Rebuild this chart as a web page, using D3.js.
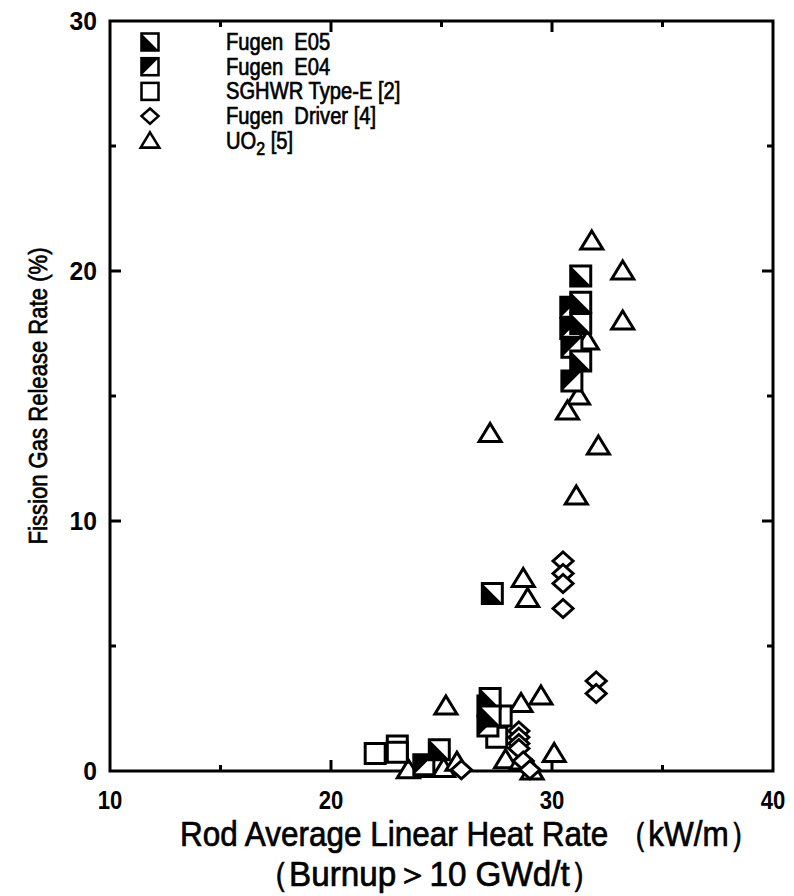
<!DOCTYPE html>
<html>
<head>
<meta charset="utf-8">
<script src="https://cdn.jsdelivr.net/npm/d3@7"></script>
<style>
  body { margin: 0; background: #fff; }
  text { font-family: "Liberation Sans", Arial, sans-serif; fill: #000; white-space: pre; }
  .heavy { stroke: #000; stroke-width: 0.7px; }
</style>
</head>
<body>
<div id="chart"></div>
<script>
'use strict'
// data: [heat rate kW/m, FGR %]
let fugenE05 = [[31.3, 19.8], [31.3, 18.75], [31.3, 17.9], [31.3, 16.4], [27.3, 7.1],
  [27.2, 2.9], [27.2, 2.2], [24.9, 0.85]]
let fugenE04 = [[30.85, 18.55], [30.85, 17.7], [30.9, 16.95], [30.9, 15.6],
  [27.1, 2.6], [27.1, 1.8], [24.2, 0.25]]
let sghwr = [[22.0, 0.7], [23.0, 1.0], [23.0, 0.75], [27.5, 1.35], [27.7, 2.2]]
let driver = [[30.5, 8.4], [30.5, 7.9], [30.5, 7.5], [30.5, 6.5], [32.0, 3.6], [32.0, 3.1],
  [28.5, 1.6], [28.5, 1.35], [28.5, 1.1], [28.5, 0.9], [28.7, 0.4], [29.0, 0.05], [25.9, 0.05]]
let uo2 = [[31.8, 21.2], [33.2, 20.0], [33.2, 18.0], [31.6, 17.2], [31.2, 15.0], [30.7, 14.4],
  [27.2, 13.5], [32.1, 13.0], [31.1, 11.0], [28.7, 7.7], [28.9, 6.9], [25.2, 2.6], [28.6, 2.7],
  [29.5, 3.0], [30.1, 0.7], [27.9, 0.45], [28.6, 0.4], [29.1, 0.0], [23.5, 0.05], [24.3, 0.1],
  [25.1, 0.1], [25.7, 0.35]]

let xTicks = [10, 20, 30, 40]
let yTicks = [0, 10, 20, 30]
let xMinor = [15, 25, 35]
let yMinor = [5, 15, 25]
let legendLabels = ['Fugen  E05', 'Fugen  E04', 'SGHWR Type-E [2]', 'Fugen  Driver [4]', 'UO2 [5]']

let width = 794
let height = 896
let margin = { top: 21, right: 21, bottom: 125, left: 110 }
let sw = 3

let svg = d3.select('#chart').append('svg')
  .attr('width', width)
  .attr('height', height)

let x = d3.scaleLinear().domain([10, 40]).range([margin.left, width - margin.right])
let y = d3.scaleLinear().domain([0, 30]).range([height - margin.bottom, margin.top])

// frame
svg.append('rect')
  .attr('x', x(10)).attr('y', y(30))
  .attr('width', x(40) - x(10)).attr('height', y(0) - y(30))
  .attr('fill', 'none').attr('stroke', '#000').attr('stroke-width', sw)

// inward ticks, all four sides
function ticksX(vals, len) {
  vals.forEach(v => {
    svg.append('line').attr('x1', x(v)).attr('x2', x(v)).attr('y1', y(0)).attr('y2', y(0) - len)
      .attr('stroke', '#000').attr('stroke-width', sw)
    svg.append('line').attr('x1', x(v)).attr('x2', x(v)).attr('y1', y(30)).attr('y2', y(30) + len)
      .attr('stroke', '#000').attr('stroke-width', sw)
  })
}
function ticksY(vals, len) {
  vals.forEach(v => {
    svg.append('line').attr('y1', y(v)).attr('y2', y(v)).attr('x1', x(10)).attr('x2', x(10) + len)
      .attr('stroke', '#000').attr('stroke-width', sw)
    svg.append('line').attr('y1', y(v)).attr('y2', y(v)).attr('x1', x(40)).attr('x2', x(40) - len)
      .attr('stroke', '#000').attr('stroke-width', sw)
  })
}
ticksX(xTicks.slice(1, -1), 11)
ticksX(xMinor, 6)
ticksY(yTicks.slice(1, -1), 11)
ticksY(yMinor, 6)

// tick labels
svg.selectAll('.xl').data(xTicks).enter().append('text')
  .attr('x', 0).attr('y', y(0) + 38)
  .attr('text-anchor', 'middle').attr('font-size', 26).attr('font-weight', 'bold')
  .attr('transform', d => 'translate(' + x(d) + ',0) scale(0.85,1)')
  .text(d => d)
svg.selectAll('.yl').data(yTicks).enter().append('text')
  .attr('x', 0).attr('y', 0)
  .attr('text-anchor', 'end').attr('font-size', 26).attr('font-weight', 'bold')
  .attr('transform', d => 'translate(' + (x(10) - 13) + ',' + (y(d) + 9) + ') scale(0.95,1)')
  .text(d => d)

// axis titles
svg.append('text').attr('class', 'heavy')
  .attr('transform', 'translate(' + 47 + ',' + y(15) + ') rotate(-90) scale(0.85,1)')
  .attr('text-anchor', 'middle').attr('font-size', 26)
  .text('Fission Gas Release Rate (%)')
svg.append('text').attr('class', 'heavy')
  .attr('transform', 'translate(470,846) scale(0.9,1)')
  .attr('text-anchor', 'middle').attr('font-size', 35)
  .text('Rod Average Linear Heat Rate （kW/m）')
svg.append('text').attr('class', 'heavy')
  .attr('transform', 'translate(256,886) scale(0.95,1)')
  .attr('font-size', 35)
  .text('（Burnup＞10 GWd/t）')

// marker shapes
let S = 10
function square(g) {
  g.append('rect').attr('x', -S).attr('y', -S).attr('width', 2 * S).attr('height', 2 * S)
    .attr('fill', '#fff').attr('stroke', '#000').attr('stroke-width', sw)
}
function halfSquare(g, kind) {
  square(g)
  // E05: black lower-left half, E04: black upper-left half
  let p = kind === 'E05'
    ? [[-S, -S], [S, S], [-S, S]]
    : [[-S, -S], [S, -S], [-S, S]]
  g.append('path').attr('d', d3.line()(p) + 'Z').attr('fill', '#000')
}
function diamond(g) {
  g.append('path').attr('d', d3.line()([[0, -9], [10, 0], [0, 9], [-10, 0]]) + 'Z')
    .attr('fill', '#fff').attr('stroke', '#000').attr('stroke-width', sw)
}
function triangle(g) {
  g.append('path').attr('d', d3.line()([[0, -10], [11, 8], [-11, 8]]) + 'Z')
    .attr('fill', '#fff').attr('stroke', '#000').attr('stroke-width', sw).attr('stroke-linejoin', 'miter')
}

let series = [
  { data: uo2, draw: triangle },
  { data: driver, draw: diamond },
  { data: sghwr, draw: square },
  { data: fugenE04, draw: g => halfSquare(g, 'E04') },
  { data: fugenE05, draw: g => halfSquare(g, 'E05') }
]
series.forEach(s => {
  svg.append('g').selectAll('g').data(s.data).enter().append('g')
    .attr('transform', d => 'translate(' + x(d[0]) + ',' + y(d[1]) + ')')
    .each(function () { s.draw(d3.select(this)) })
})

// legend
let legendDraw = [g => halfSquare(g, 'E05'), g => halfSquare(g, 'E04'), square, diamond, triangle]
let legend = svg.selectAll('.legend').data(legendLabels).enter().append('g')
  .attr('class', 'legend')
  .attr('transform', (d, i) => 'translate(150,' + (42 + i * 24.7) + ')')
legend.each(function (d, i) {
  let g = d3.select(this).append('g').attr('transform', 'scale(0.85)')
  legendDraw[i](g)
})
legend.append('text').attr('class', 'heavy')
  .attr('x', 0).attr('y', 0).attr('font-size', 24)
  .attr('transform', 'translate(76,8) scale(0.84,1)')
  .each(function (d) {
    let t = d3.select(this)
    if (d === 'UO2 [5]') {
      t.append('tspan').text('UO')
      t.append('tspan').attr('dy', 6).attr('font-size', 19).text('2')
      t.append('tspan').attr('dy', -6).text(' [5]')
    } else {
      t.text(d)
    }
  })
</script>
</body>
</html>
